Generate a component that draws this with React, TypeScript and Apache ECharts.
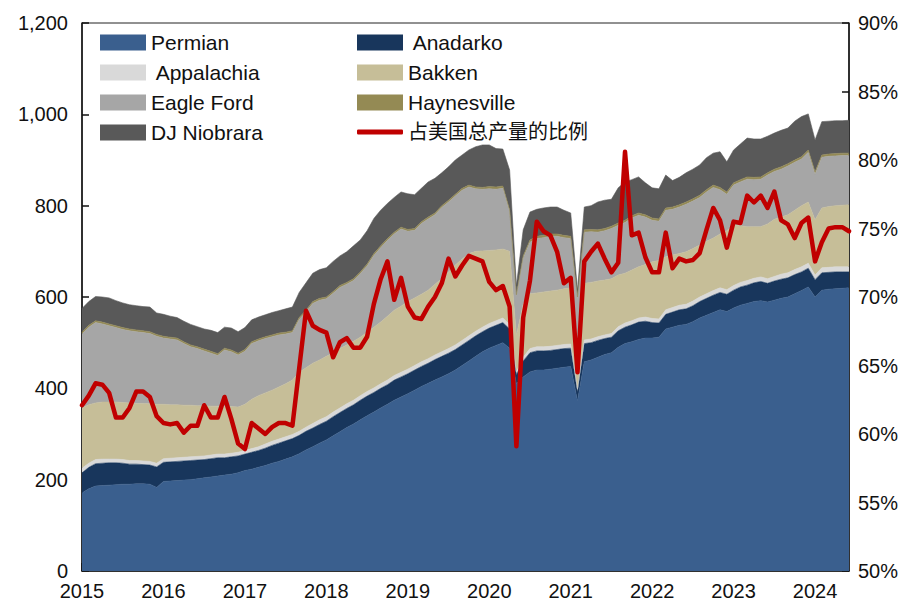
import React, { useEffect, useRef } from 'react';
import * as echarts from 'echarts';

// ---- categories ----
const YEARS = ['2015', '2016', '2017', '2018', '2019', '2020', '2021', '2022', '2023', '2024'];
const MONTHS_IN_LAST_YEAR = 6;

// ---- series values (monthly, Jan 2015 - Jun 2024) ----
const PERMIAN = [
  171, 180, 186, 187, 188, 189, 190, 190, 191, 191, 190, 183,
  196, 197, 198, 199, 200, 202, 204, 206, 208, 210, 212, 215,
  220, 223, 227, 231, 236, 240, 245, 250, 257, 265, 272, 280,
  287, 296, 305, 314, 322, 331, 340, 348, 357, 365, 374, 381,
  388, 396, 404, 411, 418, 425, 432, 440, 450, 460, 470, 480,
  488, 494, 500, 488, 410, 425, 436, 440, 440, 442, 444, 446,
  448, 372, 458, 462, 468, 474, 478, 490, 498, 502, 507, 510,
  510, 512, 530, 534, 538, 540, 546, 554, 560, 566, 572, 568,
  576, 582, 586, 590, 592, 589, 593, 597, 600, 607, 614, 622,
  600, 615, 617, 618, 619, 620,
];
const ANADARKO = [
  44, 47, 49, 49, 49, 48, 46, 44, 43, 42, 42, 45,
  42, 42, 42, 42, 42, 41, 40, 40, 40, 38, 38, 37,
  36, 37, 37, 38, 39, 40, 40, 40, 40, 41, 41, 41,
  41, 42, 42, 42, 42, 43, 43, 43, 43, 43, 44, 44,
  44, 44, 44, 44, 45, 45, 45, 45, 45, 45, 45, 44,
  44, 44, 44, 42, 20, 35, 42, 42, 42, 41, 41, 41,
  40, 20, 40, 38, 37, 35, 34, 36, 36, 37, 38, 37,
  34, 31, 32, 33, 34, 34, 35, 36, 37, 38, 38, 38,
  39, 40, 40, 41, 42, 41, 42, 42, 42, 42, 41, 41,
  38, 38, 37, 37, 36, 35,
];
const APPALACHIA = [
  10, 9, 9, 9, 8, 8, 8, 8, 8, 8, 8, 8,
  8, 8, 8, 8, 8, 8, 8, 8, 8, 8, 8, 8,
  8, 8, 8, 9, 9, 9, 9, 9, 9, 9, 10, 10,
  10, 10, 10, 10, 10, 10, 10, 10, 10, 10, 10, 10,
  10, 10, 10, 10, 10, 10, 10, 10, 10, 10, 10, 10,
  10, 10, 10, 10, 6, 8, 9, 9, 9, 9, 9, 9,
  9, 6, 8, 8, 8, 8, 8, 9, 9, 9, 9, 9,
  9, 9, 10, 10, 10, 10, 10, 10, 10, 10, 10, 10,
  10, 10, 10, 10, 10, 10, 10, 11, 11, 11, 11, 11,
  10, 11, 11, 11, 11, 11,
];
const BAKKEN = [
  132, 128, 124, 125, 125, 125, 125, 126, 125, 126, 126, 129,
  119, 117, 116, 114, 113, 111, 110, 107, 105, 104, 102, 99,
  101, 108, 112, 112, 112, 114, 116, 119, 129, 130, 132, 131,
  132, 130, 130, 129, 129, 128, 130, 133, 135, 140, 143, 145,
  148, 148, 148, 150, 155, 160, 168, 175, 178, 180, 175, 167,
  160, 155, 151, 160, 80, 117, 120, 118, 120, 121, 121, 122,
  123, 72, 124, 124, 122, 120, 120, 113, 109, 111, 112, 115,
  124, 128, 116, 115, 113, 115, 115, 114, 115, 115, 118, 129,
  133, 124, 118, 113, 110, 120, 125, 125, 127, 130, 134, 134,
  121, 131, 133, 134, 135, 136,
];
const EAGLE_FORD = [
  162, 170, 176, 171, 167, 163, 160, 158, 157, 155, 154, 149,
  145, 144, 142, 135, 128, 125, 120, 116, 111, 124, 120, 114,
  116, 122, 120, 119, 117, 114, 109, 104, 116, 122, 131, 131,
  126, 130, 134, 133, 133, 139, 145, 157, 163, 166, 167, 169,
  154, 148, 155, 156, 152, 156, 153, 151, 151, 146, 137, 135,
  135, 133, 133, 86, 85, 100, 113, 119, 119, 120, 118, 112,
  108, 126, 112, 111, 107, 108, 110, 109, 111, 114, 113, 104,
  91, 86, 102, 100, 102, 104, 104, 104, 108, 111, 97, 80,
  87, 96, 104, 103, 104, 107, 105, 105, 107, 105, 102, 109,
  100, 111, 110, 109, 109, 108,
];
const HAYNESVILLE = [
  4, 4, 4, 4, 4, 4, 4, 4, 4, 4, 4, 4,
  4, 4, 4, 4, 4, 4, 4, 4, 4, 4, 4, 4,
  4, 4, 4, 4, 4, 4, 4, 4, 4, 4, 4, 4,
  4, 4, 4, 4, 4, 4, 4, 4, 4, 4, 4, 4,
  4, 4, 4, 4, 4, 4, 4, 4, 4, 4, 4, 4,
  5, 5, 5, 5, 4, 5, 5, 5, 5, 5, 5, 5,
  5, 4, 5, 5, 5, 5, 5, 5, 5, 5, 5, 5,
  5, 5, 5, 5, 5, 5, 5, 5, 5, 5, 5, 5,
  5, 5, 5, 5, 5, 5, 5, 5, 5, 5, 5, 5,
  5, 5, 5, 5, 5, 5,
];
const DJ_NIOBRARA = [
  52, 52, 53, 55, 57, 55, 54, 53, 53, 53, 54, 47,
  48, 46, 45, 45, 45, 44, 44, 46, 46, 46, 48, 47,
  48, 48, 48, 48, 49, 49, 51, 52, 55, 60, 62, 63,
  64, 66, 65, 67, 72, 70, 73, 77, 78, 77, 76, 77,
  78, 74, 73, 77, 76, 72, 73, 75, 73, 77, 88, 93,
  91, 84, 81, 87, 20, 57, 61, 59, 60, 59, 59, 55,
  51, 15, 50, 52, 61, 62, 59, 77, 84, 79, 79, 70,
  66, 66, 72, 58, 60, 64, 65, 66, 70, 70, 78, 66,
  72, 78, 85, 84, 83, 80, 79, 80, 78, 85, 88, 79,
  70, 73, 72, 72, 71, 72,
];
// share of total US production, %
const SHARE = [
  62.1, 62.8, 63.7, 63.6, 63.0, 61.2, 61.2, 61.9, 63.1, 63.1, 62.7, 61.3,
  60.8, 60.7, 60.8, 60.1, 60.6, 60.6, 62.1, 61.2, 61.2, 62.7, 61.1, 59.3,
  58.9, 60.8, 60.4, 60.0, 60.5, 60.8, 60.8, 60.6, 64.8, 69.0, 67.9, 67.6,
  67.4, 65.6, 66.7, 67.0, 66.3, 66.3, 67.1, 69.5, 71.3, 72.6, 69.8, 71.4,
  69.3, 68.5, 68.4, 69.3, 70.0, 71.0, 72.8, 71.5, 72.3, 73.0, 72.8, 72.6,
  71.1, 70.5, 70.8, 69.3, 59.1, 68.5, 71.2, 75.5, 74.8, 74.5, 73.3, 71.0,
  71.4, 64.5, 72.6, 73.3, 73.9, 72.8, 71.8, 72.5, 80.6, 74.5, 74.7, 72.9,
  71.8, 71.8, 74.7, 72.1, 72.8, 72.6, 72.7, 73.2, 74.9, 76.5, 75.6, 73.6,
  75.5, 75.4, 77.4, 76.9, 77.4, 76.5, 77.7, 75.6, 75.3, 74.3, 75.4, 75.8,
  72.6, 74.0, 75.0, 75.1, 75.1, 74.8,
];

const SHARE_NAME = '占美国总产量的比例';

const AREA_SERIES = [
  { name: 'Permian', data: PERMIAN, color: '#3A5F8E' },
  { name: 'Anadarko', data: ANADARKO, color: '#18365C' },
  { name: 'Appalachia', data: APPALACHIA, color: '#D9D9D9' },
  { name: 'Bakken', data: BAKKEN, color: '#C6BE98' },
  { name: 'Eagle Ford', data: EAGLE_FORD, color: '#A6A6A6' },
  { name: 'Haynesville', data: HAYNESVILLE, color: '#948A54' },
  { name: 'DJ Niobrara', data: DJ_NIOBRARA, color: '#595959' },
];

const FONT = "'Liberation Sans', 'Noto Sans CJK SC', sans-serif";
const TEXT_COLOR = '#111';

function buildMonths(): string[] {
  const out: string[] = [];
  YEARS.forEach((y, yi) => {
    const n = yi === YEARS.length - 1 ? MONTHS_IN_LAST_YEAR : 12;
    for (let m = 1; m <= n; m++) out.push(`${y}-${m < 10 ? '0' + m : m}`);
  });
  return out;
}

export default function App() {
  const ref = useRef<HTMLDivElement>(null);

  useEffect(() => {
    if (!ref.current) return;
    const chart = echarts.init(ref.current, undefined, { renderer: 'svg' });
    const months = buildMonths();
    const isJan = (idx: number) => idx % 12 === 0;

    const legendText = { fontSize: 21, color: TEXT_COLOR, fontFamily: FONT };
    const spaced = (name: string) => (name === 'Anadarko' || name === 'Appalachia' ? ' ' + name : name);

    const option: any = {
      animation: false,
      backgroundColor: '#fff',
      textStyle: { fontFamily: FONT },
      grid: {
        left: 82,
        right: 57,
        top: 23,
        bottom: 34,
        show: true,
        borderColor: '#222',
        borderWidth: 1,
        backgroundColor: 'transparent',
      },
      legend: [
        {
          orient: 'vertical',
          left: 100,
          top: 32,
          padding: 0,
          itemWidth: 46,
          itemHeight: 16,
          itemGap: 9,
          selectedMode: false,
          textStyle: legendText,
          formatter: spaced,
          data: ['Permian', 'Appalachia', 'Eagle Ford', 'DJ Niobrara'].map((n) => ({ name: n, icon: 'rect' })),
        },
        {
          orient: 'vertical',
          left: 357,
          top: 32,
          padding: 0,
          itemWidth: 46,
          itemHeight: 16,
          itemGap: 9,
          selectedMode: false,
          textStyle: legendText,
          formatter: spaced,
          data: ['Anadarko', 'Bakken', 'Haynesville'].map((n) => ({ name: n, icon: 'rect' })),
        },
        {
          orient: 'vertical',
          left: 357,
          top: 122,
          padding: 0,
          itemWidth: 46,
          itemHeight: 5,
          selectedMode: false,
          textStyle: { ...legendText, fontSize: 20 },
          data: [{ name: SHARE_NAME, icon: 'roundRect' }],
        },
      ],
      xAxis: {
        type: 'category',
        data: months,
        boundaryGap: false,
        axisLine: { show: true, lineStyle: { color: '#111', width: 1.5 } },
        axisTick: { show: true, inside: true, length: 8, interval: (idx: number) => isJan(idx), lineStyle: { color: '#111', width: 1.5 } },
        axisLabel: {
          interval: (idx: number) => isJan(idx),
          formatter: (v: string) => v.slice(0, 4),
          fontSize: 20,
          color: TEXT_COLOR,
          fontFamily: FONT,
          margin: 10,
          hideOverlap: false,
        },
        splitLine: { show: false },
      },
      yAxis: [
        {
          type: 'value',
          min: 0,
          max: 1200,
          interval: 200,
          axisLine: { show: true, lineStyle: { color: '#111', width: 1.5 } },
          axisTick: { show: true, inside: true, length: 7, lineStyle: { color: '#111', width: 1.5 } },
          axisLabel: {
            fontSize: 20,
            color: TEXT_COLOR,
            fontFamily: FONT,
            margin: 14,
            formatter: (v: number) => v.toLocaleString('en-US'),
          },
          splitLine: { show: false },
        },
        {
          type: 'value',
          position: 'right',
          min: 50,
          max: 90,
          interval: 5,
          axisLine: { show: true, lineStyle: { color: '#111', width: 1.5 } },
          axisTick: { show: true, inside: true, length: 7, lineStyle: { color: '#111', width: 1.5 } },
          axisLabel: { fontSize: 20, color: TEXT_COLOR, fontFamily: FONT, margin: 9, formatter: '{value}%' },
          splitLine: { show: false },
        },
      ],
      series: [
        ...AREA_SERIES.map((s) => ({
          type: 'line',
          name: s.name,
          stack: 'total',
          data: s.data,
          symbol: 'none',
          showSymbol: false,
          color: s.color,
          itemStyle: { color: s.color },
          lineStyle: { width: 0.6, color: s.color },
          areaStyle: { color: s.color, opacity: 1 },
          emphasis: { disabled: true },
          silent: true,
          z: 2,
        })),
        {
          type: 'line',
          name: SHARE_NAME,
          yAxisIndex: 1,
          data: SHARE,
          symbol: 'none',
          showSymbol: false,
          color: '#C00000',
          itemStyle: { color: '#C00000' },
          lineStyle: { color: '#C00000', width: 4.5, join: 'round', cap: 'round' },
          emphasis: { disabled: true },
          silent: true,
          z: 5,
        },
      ],
    };

    chart.setOption(option);
    return () => chart.dispose();
  }, []);

  return (
    <div
      ref={ref}
      style={{ position: 'fixed', left: 0, top: 0, width: 906, height: 605, background: '#fff' }}
    />
  );
}
